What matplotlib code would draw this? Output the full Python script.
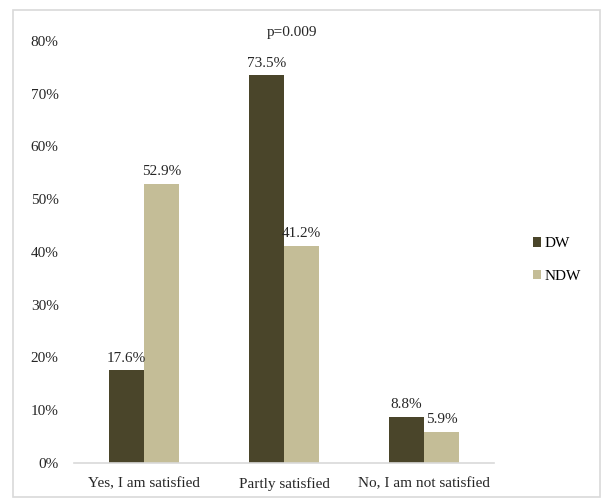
import matplotlib.pyplot as plt
import matplotlib.patches as patches
import numpy as np

plt.rcParams['font.family'] = ['Liberation Serif', 'DejaVu Serif']
plt.rcParams['font.size'] = 11

categories = ["Yes, I am satisfied", "Partly satisfied", "No, I am not satisfied"]
dw = [17.6, 73.5, 8.8]
ndw = [52.9, 41.2, 5.9]
series_names = ["DW", "NDW"]
yticks = [0, 10, 20, 30, 40, 50, 60, 70, 80]
p_label = "p=0.009"

dw_color = "#4a452a"
ndw_color = "#c4bd97"

fig = plt.figure(figsize=(6.09, 5.04), dpi=100)
ax = fig.add_axes([74 / 609, 41 / 504, 420 / 609, 422 / 504])

x = np.arange(len(categories))
width = 0.25
b1 = ax.bar(x - width / 2, dw, width, color=dw_color, label=series_names[0])
b2 = ax.bar(x + width / 2, ndw, width, color=ndw_color, label=series_names[1])

for bars, vals in [(b1, dw), (b2, ndw)]:
    for bar, v in zip(bars, vals):
        ax.annotate(f"{v:.1f}%",
                    (bar.get_x() + bar.get_width() / 2, v),
                    xytext=(0, 4), textcoords="offset points",
                    ha="center", va="bottom", color="#262626")

ax.set_xlim(-0.5, 2.5)
ax.set_ylim(0, 80)
ax.set_yticks(yticks)
ax.set_yticklabels([f"{t}%" for t in yticks])
ax.set_xticks(x)
ax.set_xticklabels(categories)
ax.tick_params(axis="both", length=0, colors="#262626")
ax.tick_params(axis="y", pad=11)
ax.tick_params(axis="x", pad=10)

for side in ["top", "right", "left"]:
    ax.spines[side].set_visible(False)
ax.spines["bottom"].set_color("#d9d9d9")
ax.spines["bottom"].set_linewidth(1.2)

ax.text(1.06, 81.7, p_label, ha="center", va="center", color="#262626",
        clip_on=False)

fig.legend(loc="center left", bbox_to_anchor=(533 / 609, 1 - 260 / 504),
           frameon=False, handlelength=0.55, handleheight=0.55,
           handletextpad=0.2, labelspacing=1.25, borderpad=0,
           borderaxespad=0)

border = patches.Rectangle((13 / 609, 7 / 504), 587 / 609, 487 / 504,
                           transform=fig.transFigure, fill=False,
                           edgecolor="#d9d9d9", linewidth=1.2)
fig.patches.append(border)

fig.savefig("out.png", dpi=100)
